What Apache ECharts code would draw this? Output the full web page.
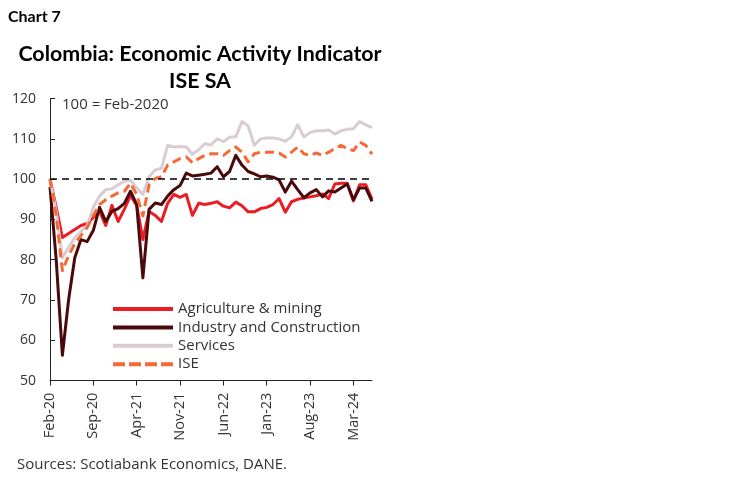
<!DOCTYPE html>
<html><head><meta charset="utf-8">
<script src="https://cdn.jsdelivr.net/npm/echarts@6/dist/echarts.min.js"></script>
<style>html,body{margin:0;padding:0;background:#fff}#c{width:748px;height:483px}</style>
</head><body><div id="c"></div>
<script>
const months = ['Feb-20','Mar-20','Apr-20','May-20','Jun-20','Jul-20','Aug-20','Sep-20','Oct-20','Nov-20','Dec-20',
'Jan-21','Feb-21','Mar-21','Apr-21','May-21','Jun-21','Jul-21','Aug-21','Sep-21','Oct-21','Nov-21','Dec-21',
'Jan-22','Feb-22','Mar-22','Apr-22','May-22','Jun-22','Jul-22','Aug-22','Sep-22','Oct-22','Nov-22','Dec-22',
'Jan-23','Feb-23','Mar-23','Apr-23','May-23','Jun-23','Jul-23','Aug-23','Sep-23','Oct-23','Nov-23','Dec-23',
'Jan-24','Feb-24','Mar-24','Apr-24','May-24','Jun-24'];

const agriculture = [100,93,85.5,86.5,87.5,88.5,89,90.5,92,88.5,93.5,
89.5,92.5,96,93.5,85,92,91,89.5,94,96.2,95.5,96.2,
91,94,93.7,94,94.4,93.3,92.9,94.3,93.4,91.9,91.9,92.7,
93,93.7,95.2,91.8,94.4,95,95.3,95.6,95.9,96.3,95.2,98.8,
99,99,94.6,98.6,98.6,95];

const industry = [98,80,56.3,70,80.5,85,84.5,87.3,93,89.5,92,
92.7,94,97,93.7,75.5,92.5,94.1,93.7,95.8,97.4,98.4,101.5,
100.8,101,101.2,101.5,103.1,100.6,101.9,105.9,103.5,101.9,101.3,100.6,
100.8,100.5,99.8,96.8,99.5,97.4,95.4,96.6,97.4,95.6,97.1,96.8,
97.8,98.8,94.9,97.8,97.8,94.5];

const services = [100,92,80.5,83,85.5,87,88.5,93,95.8,97.4,97.6,
98.6,99.5,99.8,97.8,96.2,100.6,102.3,102.7,108.4,108,108.1,108,
106.2,107.3,108.8,108.5,110,109.3,110.4,110.5,114.3,113.2,108.4,110,
110.2,110.2,110,109.4,110.5,113.5,110.5,111.6,112,112,112.2,111.2,
112,112.4,112.5,114.3,113.5,112.8];

const ise = [100,91,77.3,81,84,86,88,91,93.7,94.9,95.8,
96.6,97,99,96.2,90.9,98.6,100.2,100.6,103.5,104.3,105.1,105.5,
104.1,105.1,105.9,106.3,106.3,105.9,107.1,108,106.7,104.3,106.3,106.7,
106.7,106.7,106.5,105.5,106.7,108,106.3,105.9,106.5,105.9,106.7,107.6,
108.4,107.6,107.1,109.2,108.4,106.2];

const yTicks = [50,60,70,80,90,100,110,120];
const seriesNames = ['Agriculture & mining','Industry and Construction','Services','ISE'];
const seriesColors = ['#ec1c24','#4a0a0c','#d9cdd3','#f46a36'];

const TITLE_FONT = 'Lato, "Open Sans", sans-serif';
const FONT = '"Open Sans", Lato, sans-serif';
const chart = echarts.init(document.getElementById('c'), null, {renderer:'canvas'});

const SOLID_ICON = 'path://M0,0H60V4H0Z';
const DASH_ICON = 'path://M0,0H12V4H0Z M16,0H28V4H16Z M32,0H44V4H32Z M48,0H60V4H48Z';

function lineSeries(name, data, color, dashed, extra) {
  return Object.assign({
    name: name, type: 'line', data: data, symbol: 'none', showSymbol: false,
    lineStyle: {color: color, width: 3, type: dashed ? [9,5] : 'solid', cap: 'butt', join: 'round'},
    itemStyle: {color: color},
    emphasis: {disabled: true}
  }, extra || {});
}

chart.setOption({
  animation: false,
  backgroundColor: '#ffffff',
  textStyle: {fontFamily: FONT},
  graphic: [
    {type:'text', x:8, y:17, style:{text:'Chart 7', font:'bold 16px ' + TITLE_FONT, fill:'#000', textVerticalAlign:'middle'}},
    {type:'text', x:200, y:54, style:{text:'Colombia: Economic Activity Indicator', font:'bold 21.4px ' + TITLE_FONT, fill:'#000', textAlign:'center', textVerticalAlign:'middle'}},
    {type:'text', x:200, y:81, style:{text:'ISE SA', font:'bold 21.4px ' + TITLE_FONT, fill:'#000', textAlign:'center', textVerticalAlign:'middle'}},
    {type:'text', x:62, y:105, z:10, style:{text:'100 = Feb-2020', font:'15px ' + FONT, fill:'#333', textVerticalAlign:'middle'}},
    {type:'text', x:17, y:465, style:{text:'Sources: Scotiabank Economics, DANE.', font:'15px ' + FONT, fill:'#333', textVerticalAlign:'middle'}}
  ],
  grid: {left: 50, top: 98.6, width: 322, height: 282, containLabel: false},
  legend: {
    orient: 'vertical', left: 108, top: 295.5,
    itemWidth: 60, itemHeight: 4, itemGap: 1.4, symbolKeepAspect: false,
    data: seriesNames.map((n, i) => ({name: n, icon: i === 3 ? DASH_ICON : SOLID_ICON, itemStyle: {color: seriesColors[i], borderWidth: 0}})),
    textStyle: {fontFamily: FONT, fontSize: 15, color: '#333', lineHeight: 17}
  },
  xAxis: {
    type: 'category', data: months, boundaryGap: false,
    axisLine: {lineStyle: {color: '#222', width: 1}},
    axisTick: {show: true, interval: 6, length: 5, lineStyle: {color: '#222'}},
    axisLabel: {interval: 6, rotate: 90, margin: 12, fontFamily: FONT, fontSize: 14.5, color: '#333'},
    splitLine: {show: false}
  },
  yAxis: {
    type: 'value', min: yTicks[0], max: yTicks[yTicks.length-1], interval: 10,
    axisLine: {show: true, lineStyle: {color: '#222', width: 1}},
    axisTick: {show: true, inside: true, length: 5, lineStyle: {color: '#222'}},
    axisLabel: {margin: 14, fontFamily: FONT, fontSize: 14, color: '#333'},
    splitLine: {show: false}
  },
  series: [
    lineSeries(seriesNames[0], agriculture, seriesColors[0], false),
    lineSeries(seriesNames[1], industry, seriesColors[1], false),
    lineSeries(seriesNames[2], services, seriesColors[2], false),
    lineSeries(seriesNames[3], ise, seriesColors[3], true, {
      markLine: {
        silent: true, symbol: 'none', label: {show: false},
        lineStyle: {color: '#000', type: [7,5], width: 1.5},
        data: [{yAxis: 100}]
      }
    })
  ]
});
</script>
</body></html>
